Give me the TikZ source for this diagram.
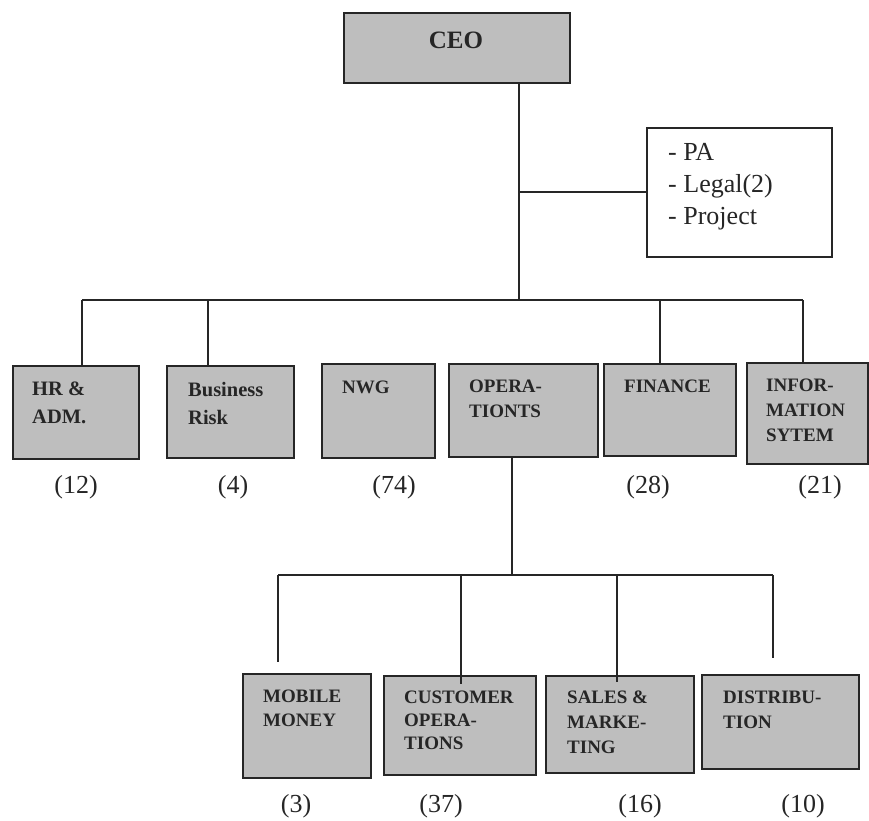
\documentclass[tikz,border=0pt]{standalone}
\usepackage{fontspec}
\setmainfont{Liberation Serif}
\definecolor{boxgray}{RGB}{190,190,190}
\definecolor{ink}{RGB}{38,38,38}
\begin{document}
\begin{tikzpicture}[x=1pt,y=-1pt,
  unit/.style={draw=ink, line width=1.8pt, fill=boxgray, anchor=north west, inner sep=0pt},
  plainbox/.style={draw=ink, line width=1.5pt, fill=white, anchor=north west, inner sep=0pt},
  conn/.style={draw=ink, line width=1.5pt},
  btext/.style={anchor=north west, inner sep=0pt, align=left, font=\fontsize{19}{25}\selectfont\bfseries, text=black!85},
  bigtext/.style={btext, font=\fontsize{20.5}{28}\selectfont\bfseries},
  count/.style={inner sep=0pt, font=\fontsize{26}{30}\selectfont, text=black!85}
]
\useasboundingbox (0,0) rectangle (869,820);

% --- boxes ---
\node[unit, minimum width=226pt, minimum height=70pt] (ceo) at (343,12) {};
\node[inner sep=0pt, font=\fontsize{25}{30}\selectfont\bfseries, text=black!85] (tceo) at (456,40) {CEO};

\node[plainbox, minimum width=185pt, minimum height=129pt] (pa) at (646,127) {};
\node[anchor=north west, inner sep=0pt, align=left, font=\fontsize{26}{32}\selectfont, text=black!85] (tpa) at ([xshift=22pt,yshift=-16pt]pa.north west) {- PA\\- Legal(2)\\- Project};

\node[unit, minimum width=126pt, minimum height=93pt] (hr) at (12,365) {};
\node[bigtext] (thr) at ([xshift=20pt,yshift=-17pt]hr.north west) {HR \&\\ADM.};

\node[unit, minimum width=127pt, minimum height=92pt] (bus) at (166,365) {};
\node[bigtext] (tbus) at ([xshift=22pt,yshift=-17pt]bus.north west) {Business\\Risk};

\node[unit, minimum width=113pt, minimum height=94pt] (nwg) at (321,363) {};
\node[btext] (tnwg) at ([xshift=21pt,yshift=-18pt]nwg.north west) {NWG};

\node[unit, minimum width=149pt, minimum height=93pt] (ops) at (448,363) {};
\node[btext] (tops) at ([xshift=21pt,yshift=-17pt]ops.north west) {OPERA-\\TIONTS};

\node[unit, minimum width=132pt, minimum height=92pt] (fin) at (603,363) {};
\node[btext] (tfin) at ([xshift=21pt,yshift=-17pt]fin.north west) {FINANCE};

\node[unit, minimum width=121pt, minimum height=101pt] (inf) at (746,362) {};
\node[btext] (tinf) at ([xshift=20pt,yshift=-17pt]inf.north west) {INFOR-\\MATION\\SYTEM};

\node[unit, minimum width=128pt, minimum height=104pt] (mob) at (242,673) {};
\node[btext, font=\fontsize{19}{24}\selectfont\bfseries] (tmob) at ([xshift=21pt,yshift=-17pt]mob.north west) {MOBILE\\MONEY};

\node[unit, minimum width=152pt, minimum height=99pt] (cus) at (383,675) {};
\node[btext, font=\fontsize{19}{23}\selectfont\bfseries] (tcus) at ([xshift=21pt,yshift=-16pt]cus.north west) {CUSTOMER\\OPERA-\\TIONS};

\node[unit, minimum width=148pt, minimum height=97pt] (sal) at (545,675) {};
\node[btext] (tsal) at ([xshift=22pt,yshift=-16pt]sal.north west) {SALES \&\\MARKE-\\TING};

\node[unit, minimum width=157pt, minimum height=94pt] (dis) at (701,674) {};
\node[btext] (tdis) at ([xshift=22pt,yshift=-17pt]dis.north west) {DISTRIBU-\\TION};

% --- counts ---
\node[count] (c12) at (76,487) {(12)};
\node[count] (c4) at (233,487) {(4)};
\node[count] (c74) at (394,487) {(74)};
\node[count] (c28) at (648,487) {(28)};
\node[count] (c21) at (820,487) {(21)};
\node[count] (c3) at (296,806) {(3)};
\node[count] (c37) at (441,806) {(37)};
\node[count] (c16) at (640,806) {(16)};
\node[count] (c10) at (803,806) {(10)};

% --- junction coordinates ---
\coordinate (spine) at (519,300);
\coordinate (side) at (519,192);
\coordinate (barL) at (82,300);
\coordinate (barB) at (208,300);
\coordinate (barF) at (660,300);
\coordinate (barR) at (803,300);
\coordinate (subT) at (512,575);
\coordinate (subL) at (278,575);
\coordinate (subC) at (461,575);
\coordinate (subS) at (617,575);
\coordinate (subR) at (773,575);
\coordinate (mobEnd) at (278,662);
\coordinate (cusEnd) at (461,684);
\coordinate (salEnd) at (617,682);
\coordinate (disEnd) at (773,658);

% --- connectors ---
\draw[conn] (ceo.south -| spine) -- (spine);
\draw[conn] (side) -- (side -| pa.west);
\draw[conn] (barL) -- (barR);
\draw[conn] (barL) -- (barL |- hr.north);
\draw[conn] (barB) -- (barB |- bus.north);
\draw[conn] (barF) -- (barF |- fin.north);
\draw[conn] (barR) -- (barR |- inf.north);
\draw[conn] (ops.south -| subT) -- (subT);
\draw[conn] (subL) -- (subR);
\draw[conn] (subL) -- (mobEnd);
\draw[conn] (subC) -- (cusEnd);
\draw[conn] (subS) -- (salEnd);
\draw[conn] (subR) -- (disEnd);
\end{tikzpicture}
\end{document}
